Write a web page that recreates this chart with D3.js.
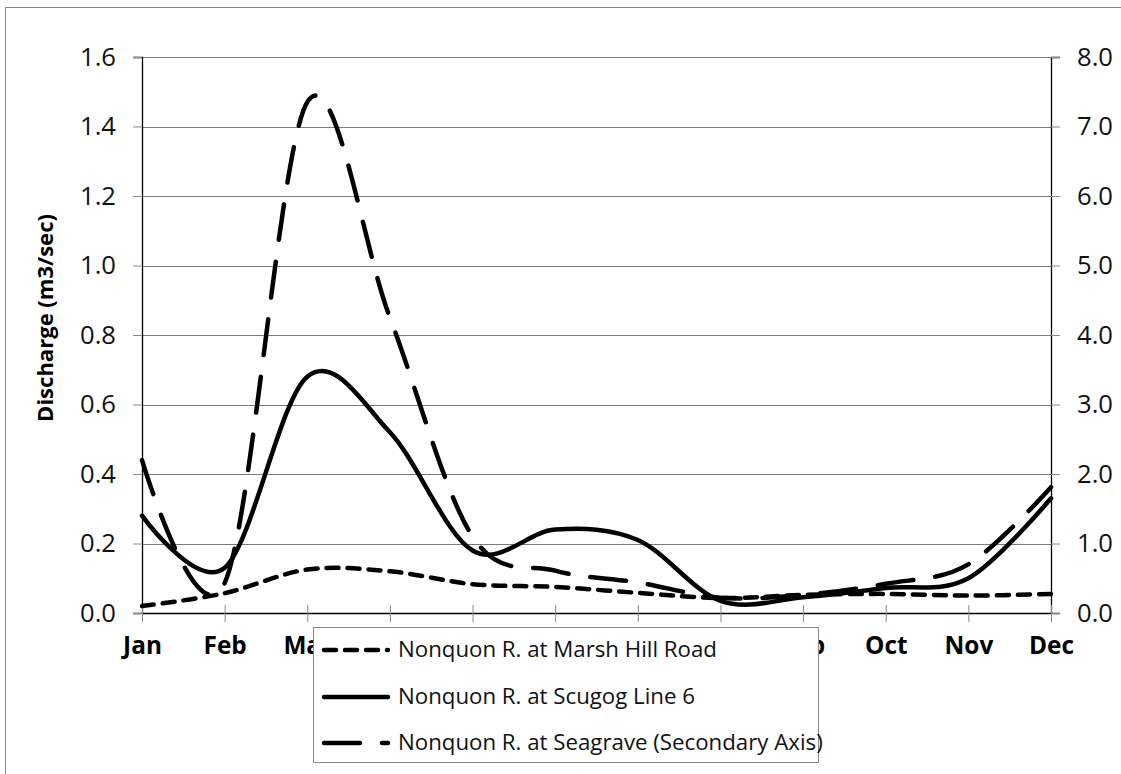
<!DOCTYPE html>
<html><head><meta charset="utf-8">
<script src="https://cdn.jsdelivr.net/npm/d3@7"></script>
<style>body{margin:0;background:#fff}svg{display:block}</style>
</head><body>
<svg id="chart" width="1121" height="774"></svg>
<script>
const months = ["Jan","Feb","Mar","Apr","May","Jun","Jul","Aug","Sep","Oct","Nov","Dec"];
const marshHill = [0.02, 0.057, 0.125, 0.12, 0.083, 0.075, 0.058, 0.043, 0.052, 0.055, 0.05, 0.055];
const scugog = [0.28, 0.13, 0.68, 0.52, 0.18, 0.24, 0.21, 0.035, 0.045, 0.072, 0.10, 0.33];
const seagrave = [2.2, 0.43, 7.35, 4.25, 1.1, 0.61, 0.44, 0.22, 0.26, 0.42, 0.7, 1.81];
const leftTicks = [0, 0.2, 0.4, 0.6, 0.8, 1.0, 1.2, 1.4, 1.6];
const rightTicks = [0, 1, 2, 3, 4, 5, 6, 7, 8];
const seriesNames = ["Nonquon R. at Marsh Hill Road","Nonquon R. at Scugog Line 6","Nonquon R. at Seagrave (Secondary Axis)"];

const FONT = "'Open Sans', Lato, sans-serif";
const svg = d3.select("#chart");
const L = 142, R = 1051, T = 57, B = 613;

// scale a font size so a sample text reaches a measured width
function fitSize(sample, target, weight) {
  const t = svg.append("text").attr("font-family",FONT).attr("font-size",20)
    .attr("font-weight",weight||"normal").text(sample);
  const w = t.node().getComputedTextLength();
  t.remove();
  return 20 * target / w;
}
const tickSize = fitSize("1.6", 36);
const monthSize = fitSize("Dec", 45, "bold");
const legendSize = fitSize(seriesNames[0], 319);
const titleSize = fitSize("Discharge (m3/sec)", 208, "bold");

svg.append("rect").attr("x",5.5).attr("y",7.5).attr("width",1130).attr("height",800)
  .attr("fill","none").attr("stroke","#888").attr("stroke-width",1);

const x = d3.scalePoint().domain(months).range([L, R]);
const y = d3.scaleLinear().domain([0,1.6]).range([B, T]);
const y2 = d3.scaleLinear().domain([0,8]).range([B, T]);

// gridlines
svg.append("g").selectAll("line").data(leftTicks.slice(1)).join("line")
  .attr("x1",L).attr("x2",R).attr("y1",d=>Math.round(y(d))+0.5).attr("y2",d=>Math.round(y(d))+0.5)
  .attr("stroke","#7a7a7a").attr("stroke-width",1);

// left axis
const ga = svg.append("g").attr("transform",`translate(${L},0)`)
  .call(d3.axisLeft(y).tickValues(leftTicks).tickFormat(d3.format(".1f")).tickSize(9).tickPadding(17));
ga.select(".domain").attr("stroke","#000").attr("stroke-width",1.3);
ga.selectAll(".tick line").attr("stroke","#888");
ga.selectAll("text").attr("font-family",FONT).attr("font-size",tickSize).attr("fill","#111");

// right axis
const gb = svg.append("g").attr("transform",`translate(${R},0)`)
  .call(d3.axisRight(y2).tickValues(rightTicks).tickFormat(d3.format(".1f")).tickSize(9).tickPadding(17));
gb.select(".domain").attr("stroke","#000").attr("stroke-width",1.3);
gb.selectAll(".tick line").attr("stroke","#888");
gb.selectAll("text").attr("font-family",FONT).attr("font-size",tickSize).attr("fill","#111");

// x axis
const gx = svg.append("g").attr("transform",`translate(0,${B})`)
  .call(d3.axisBottom(x).tickSizeInner(9).tickSizeOuter(0).tickPadding(15));
gx.select(".domain").attr("stroke","#000").attr("stroke-width",1.3);
gx.selectAll(".tick line").attr("y1",-8).attr("stroke","#888");
gx.selectAll("text").attr("font-family",FONT).attr("font-size",monthSize).attr("font-weight","bold").attr("fill","#000");

// y title
svg.append("text").attr("transform","translate(53,318) rotate(-90)").attr("text-anchor","middle")
  .attr("font-family",FONT).attr("font-size",titleSize).attr("font-weight","bold").text("Discharge (m3/sec)");

const curve = d3.curveCardinal.tension(0);
const styles = [
  {data: marshHill, ys: y, dash: "12,9"},
  {data: scugog, ys: y, dash: null},
  {data: seagrave, ys: y2, dash: "36,22"}
];
styles.forEach(s => {
  const line = d3.line().x((d,i)=>x(months[i])).y(d=>s.ys(d)).curve(curve);
  svg.append("path").attr("d", line(s.data)).attr("fill","none").attr("stroke","#000")
    .attr("stroke-width",4.5).attr("stroke-linecap","round").attr("stroke-linejoin","round")
    .attr("stroke-dasharray", s.dash);
});

// legend
const lg = svg.append("g");
lg.append("rect").attr("x",313.5).attr("y",627.5).attr("width",505).attr("height",135)
  .attr("fill","#fff").attr("stroke","#888").attr("stroke-width",1);
const rowsY = [650, 697, 743];
styles.forEach((s,i)=>{
  lg.append("line").attr("x1",324).attr("x2",388).attr("y1",rowsY[i]).attr("y2",rowsY[i])
    .attr("stroke","#000").attr("stroke-width",4.5).attr("stroke-linecap","round")
    .attr("stroke-dasharray", s.dash);
  lg.append("text").attr("x",398).attr("y",rowsY[i]+7).attr("font-family",FONT).attr("font-size",legendSize)
    .attr("fill","#111").text(seriesNames[i]);
});
</script>
</body></html>
